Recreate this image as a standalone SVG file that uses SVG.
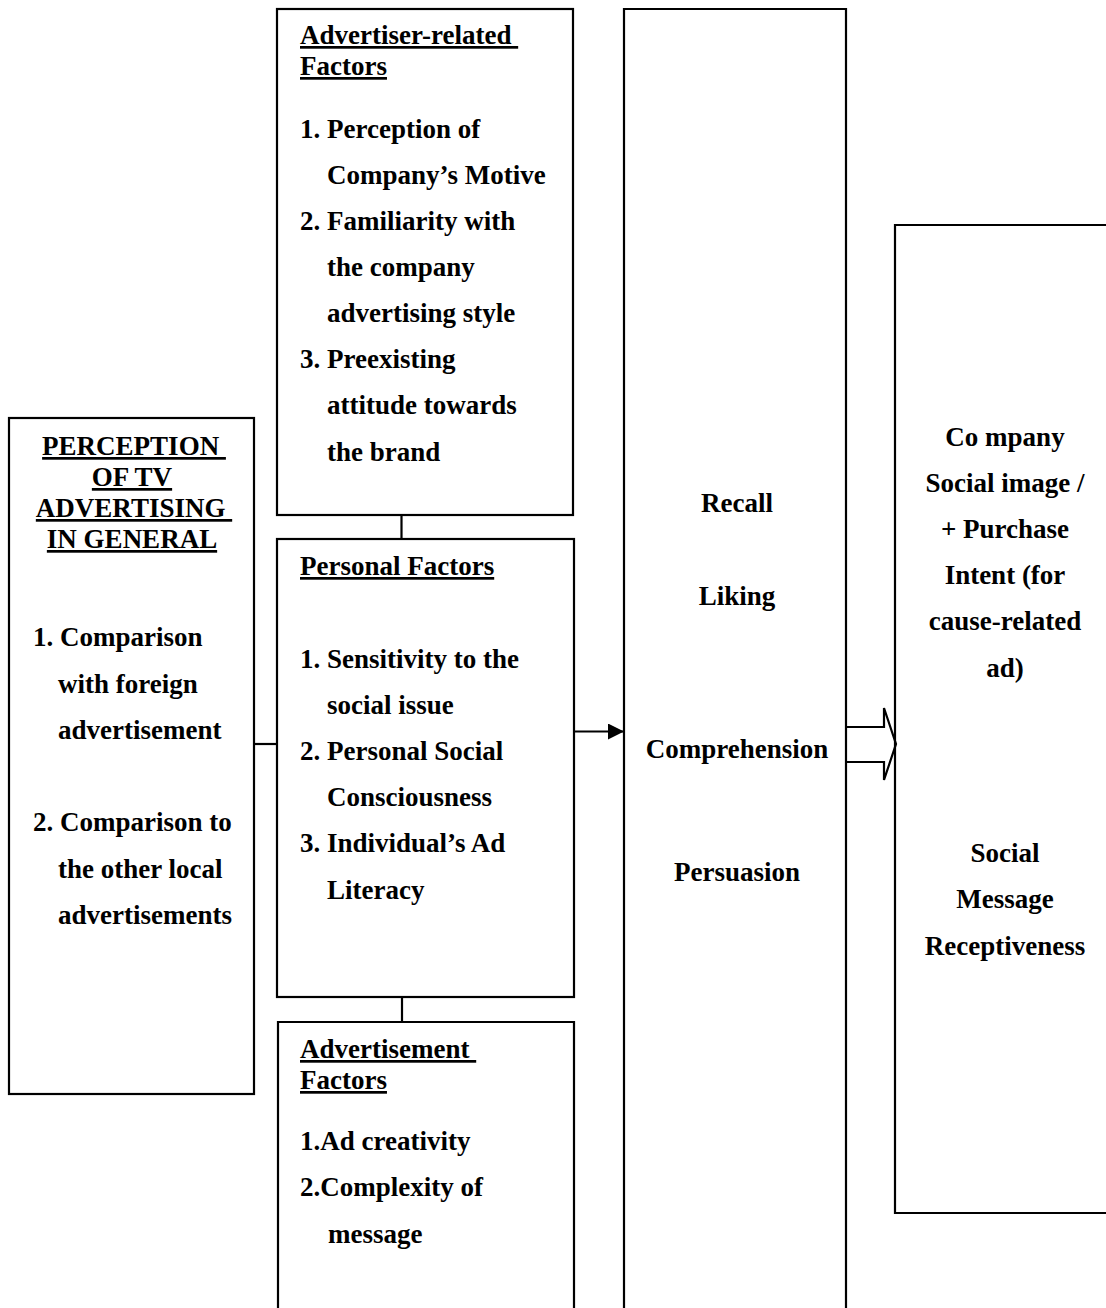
<svg xmlns="http://www.w3.org/2000/svg" width="1106" height="1308" viewBox="0 0 1106 1308">
<style>
.box{fill:none;stroke:#000;stroke-width:2.2}
.ln{fill:none;stroke:#000;stroke-width:2.2}
text{font-family:"Liberation Serif","Times New Roman",serif;font-weight:bold;font-size:27px;fill:#000}
.c{text-anchor:middle}
.u{text-decoration:underline}
</style>
<defs>
<marker id="ah" markerWidth="16" markerHeight="16" refX="16" refY="8" orient="auto" markerUnits="userSpaceOnUse">
<path d="M0,0 L16,8 L0,16 Z" fill="#000"/>
</marker>
</defs>
<rect width="1106" height="1308" fill="#fff"/>
<g id="perception-general">
<rect class="box" x="9" y="418" width="245" height="676"/>
<text class="c u" x="134" y="455" xml:space="preserve">PERCEPTION </text>
<text class="c u" x="132" y="486">OF TV</text>
<text class="c u" x="134" y="517" xml:space="preserve">ADVERTISING </text>
<text class="c u" x="132" y="548">IN GENERAL</text>
<text x="33" y="646">1. Comparison</text>
<text x="58" y="693">with foreign</text>
<text x="58" y="739">advertisement</text>
<text x="33" y="831">2. Comparison to</text>
<text x="58" y="878">the other local</text>
<text x="58" y="924">advertisements</text>
</g>
<g id="advertiser-factors">
<rect class="box" x="277" y="9" width="296" height="506"/>
<text class="u" x="300" y="44" xml:space="preserve">Advertiser-related </text>
<text class="u" x="300" y="75">Factors</text>
<text x="300" y="138">1. Perception of</text>
<text x="327" y="184">Company’s Motive</text>
<text x="300" y="230">2. Familiarity with</text>
<text x="327" y="276">the company</text>
<text x="327" y="322">advertising style</text>
<text x="300" y="368">3. Preexisting</text>
<text x="327" y="414">attitude towards</text>
<text x="327" y="461">the brand</text>
</g>
<g id="personal-factors">
<rect class="box" x="277" y="539" width="297" height="458"/>
<text class="u" x="300" y="575">Personal Factors</text>
<text x="300" y="668">1. Sensitivity to the</text>
<text x="327" y="714">social issue</text>
<text x="300" y="760">2. Personal Social</text>
<text x="327" y="806">Consciousness</text>
<text x="300" y="852">3. Individual’s Ad</text>
<text x="327" y="899">Literacy</text>
</g>
<g id="advertisement-factors">
<path class="box" d="M278,1310 L278,1022 L574,1022 L574,1310"/>
<text class="u" x="300" y="1058" xml:space="preserve">Advertisement </text>
<text class="u" x="300" y="1089">Factors</text>
<text x="300" y="1150">1.Ad creativity</text>
<text x="300" y="1196">2.Complexity of</text>
<text x="328" y="1243">message</text>
</g>
<g id="effects">
<path class="box" d="M624,1310 L624,9 L846,9 L846,1310"/>
<text class="c" x="737" y="512">Recall</text>
<text class="c" x="737" y="605">Liking</text>
<text class="c" x="737" y="758">Comprehension</text>
<text class="c" x="737" y="881">Persuasion</text>
</g>
<g id="outcomes">
<path class="box" d="M1110,225 L895,225 L895,1213 L1110,1213"/>
<text class="c" x="1005" y="446" xml:space="preserve">Co mpany</text>
<text class="c" x="1005" y="492">Social image /</text>
<text class="c" x="1005" y="538">+ Purchase</text>
<text class="c" x="1005" y="584">Intent (for</text>
<text class="c" x="1005" y="630">cause-related</text>
<text class="c" x="1005" y="677">ad)</text>
<text class="c" x="1005" y="862">Social</text>
<text class="c" x="1005" y="908">Message</text>
<text class="c" x="1005" y="955">Receptiveness</text>
</g>
<g id="connectors">
<line class="ln" x1="401.5" y1="515" x2="401.5" y2="539"/>
<line class="ln" x1="402" y1="997" x2="402" y2="1022"/>
<line class="ln" x1="254" y1="744" x2="277" y2="744"/>
<line class="ln" x1="574" y1="731.5" x2="624" y2="731.5" marker-end="url(#ah)"/>
<path class="ln" d="M846,727 L884,727 L884,708 L896,744 L884,780 L884,762 L846,762"/>
</g>
</svg>
